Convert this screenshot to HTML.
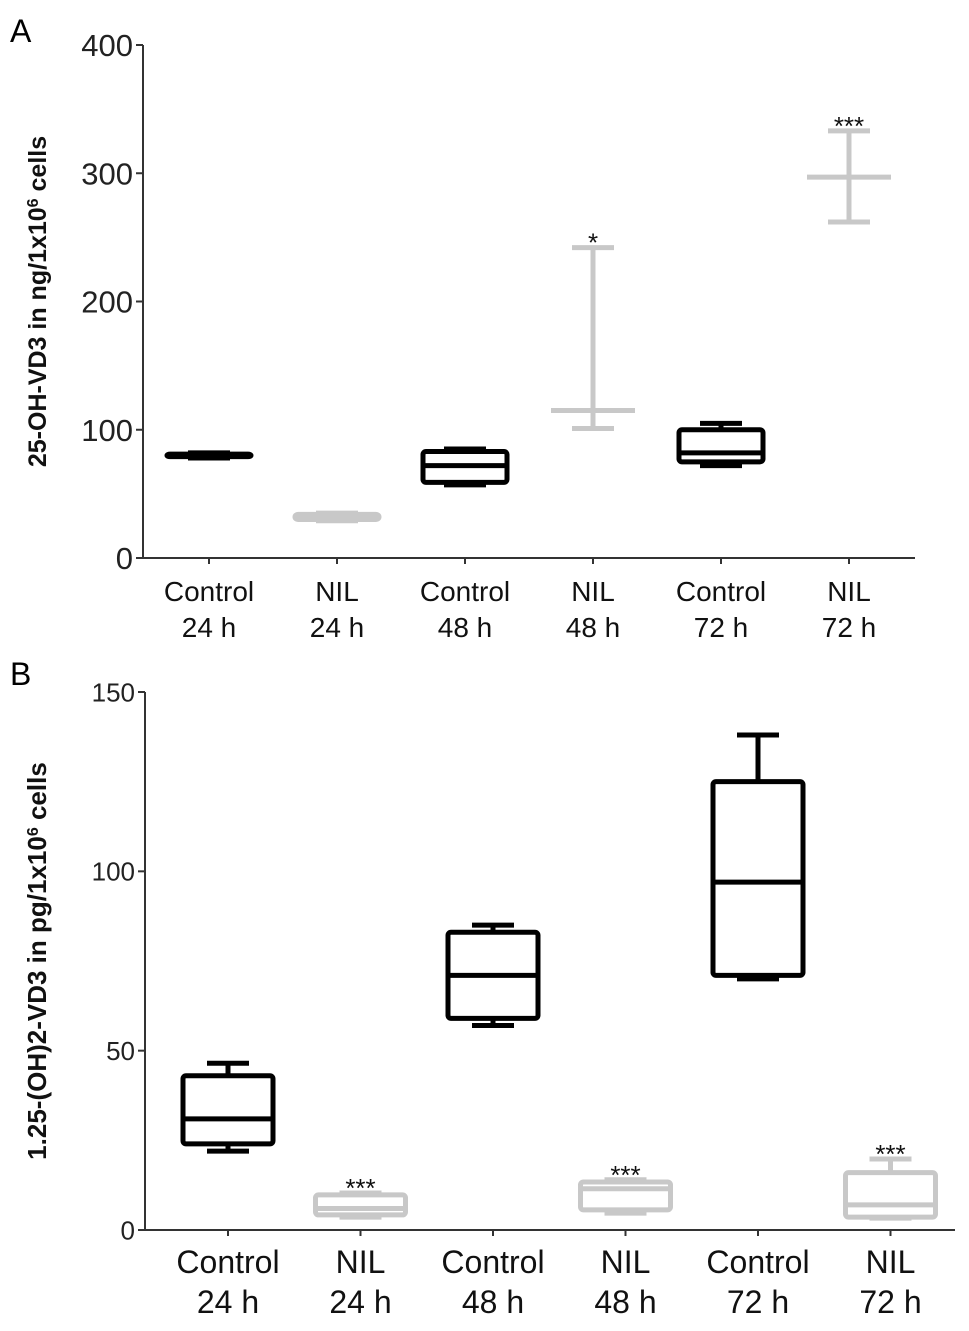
<!DOCTYPE html>
<html><head><meta charset="utf-8"><style>
body{margin:0;background:#fff}
svg text{font-family:"Liberation Sans",Arial,sans-serif}
</style></head><body>
<svg id="chart" width="969" height="1326" xmlns="http://www.w3.org/2000/svg">
<text x="10" y="42" font-size="32">A</text>
<text x="10" y="685" font-size="32">B</text>
<g id="pa"></g>
<g id="pb"></g>
</svg>
<script>
const categories = ["Control|24 h","NIL|24 h","Control|48 h","NIL|48 h","Control|72 h","NIL|72 h"];
const groupColor = ["black","grey","black","grey","black","grey"];
// panel A: [min, q1, median, q3, max]
const aMin = [78, 29, 57, 101, 72, 262];
const aQ1 = [79, 30, 59, 115, 75, 297];
const aMed = [80, 32, 72, 115, 82, 297];
const aQ3 = [81, 34, 83, 115, 100, 297];
const aMax = [82, 35, 85, 242, 105, 333];
const aStars = ["","","","*","","***"];
const aTicks = [0,100,200,300,400];
// panel B
const bMin = [22, 3.6, 57, 4.7, 70, 3.3];
const bQ1 = [24, 4.2, 59, 5.6, 71, 3.6];
const bMed = [31, 6, 71, 11.5, 97, 7];
const bQ3 = [43, 9.8, 83, 13.4, 125, 16];
const bMax = [46.5, 10.3, 85, 14, 138, 19.8];
const bStars = ["","***","","***","","***"];
const bTicks = [0,50,100,150];

const NS="http://www.w3.org/2000/svg";
function mk(p,tag,at){const e=document.createElementNS(NS,tag);for(const k in at)e.setAttribute(k,at[k]);p.appendChild(e);return e;}

function panel(g,cfg){
  const y=v=>cfg.y0-(v-cfg.vmin)/(cfg.vmax-cfg.vmin)*(cfg.y0-cfg.y1);
  const x=i=>cfg.x0+i*cfg.step;
  let ax=mk(g,"line",{x1:cfg.ax,y1:cfg.y1,x2:cfg.ax,y2:cfg.y0,stroke:"#333","stroke-width":2});
  
  
  let bx=mk(g,"line",{x1:cfg.ax,y1:cfg.y0,x2:cfg.xend,y2:cfg.y0,stroke:"#333","stroke-width":2});
  
  
  cfg.ticks.forEach(t=>{
    let l=mk(g,"line",{x1:cfg.ax-7,y1:y(t),x2:cfg.ax,y2:y(t),stroke:"#333","stroke-width":2});
    
    
    let tx=mk(g,"text",{x:cfg.ax-10,y:y(t)+cfg.tfs*0.36,"font-size":cfg.tfs,"text-anchor":"end",fill:"#222"});
    tx.textContent=t;
    
    
  });
  let tt=mk(g,"text",{transform:`translate(${cfg.tx},${(cfg.y0+cfg.y1)/2}) rotate(-90)`,"font-size":cfg.ttfs,"font-weight":"bold","text-anchor":"middle",fill:"#111"});
  tt.innerHTML=cfg.title;
  
  
  categories.forEach((c,i)=>{
    const cx=x(i);
    let tk=mk(g,"line",{x1:cx,y1:cfg.y0,x2:cx,y2:cfg.y0+6,stroke:"#333","stroke-width":2});
    
    
    const parts=c.split("|");
    parts.forEach((p,j)=>{
      let t=mk(g,"text",{x:cx,y:cfg.y0+cfg.lab+j*cfg.lh,"font-size":cfg.fs,"text-anchor":"middle",fill:"#111"});
      t.textContent=p;
      
      
    });
    const col=groupColor[i]==="black"?"#000":"#c8c8c8";
    const bg=mk(g,"g",{stroke:col,"stroke-width":5,fill:"none","stroke-linejoin":"round"});
    
    
    const hw=cfg.bw/2, cw=cfg.cw/2;
    const mn=cfg.d.min[i],q1=cfg.d.q1[i],md=cfg.d.med[i],q3=cfg.d.q3[i],mx=cfg.d.max[i];
    mk(bg,"line",{x1:cx,y1:y(mx),x2:cx,y2:y(q3)});
    mk(bg,"line",{x1:cx,y1:y(q1),x2:cx,y2:y(mn)});
    mk(bg,"line",{x1:cx-cw,y1:y(mx),x2:cx+cw,y2:y(mx)});
    mk(bg,"line",{x1:cx-cw,y1:y(mn),x2:cx+cw,y2:y(mn)});
    if(q3-q1>0.01){
      mk(bg,"rect",{x:cx-hw,y:y(q3),width:cfg.bw,height:y(q1)-y(q3),rx:3});
    }
    mk(bg,"line",{x1:cx-hw,y1:y(md),x2:cx+hw,y2:y(md)});
    if(cfg.stars[i]){
      let s=mk(g,"text",{x:cx,y:y(mx)+4,"font-size":26,"text-anchor":"middle",fill:"#111"});
      s.textContent=cfg.stars[i];
      
      
    }
  });
}
panel(document.getElementById("pa"),{ax:143,y0:558,y1:45,vmin:0,vmax:400,x0:209,step:128,xend:915,bw:84,cw:42,ticks:aTicks,tfs:31,ttfs:25,
 tx:46,title:'25-OH-VD3 in ng/1x10<tspan baseline-shift="super" font-size="16">6</tspan> cells',lab:43,lh:36,fs:28,stars:aStars,
 d:{min:aMin,q1:aQ1,med:aMed,q3:aQ3,max:aMax}});
panel(document.getElementById("pb"),{ax:145,y0:1230,y1:692,vmin:0,vmax:150,x0:228,step:132.5,xend:955,bw:90,cw:42,ticks:bTicks,tfs:26,ttfs:26,
 tx:46,title:'1.25-(OH)2-VD3 in pg/1x10<tspan baseline-shift="super" font-size="16">6</tspan> cells',lab:43,lh:40,fs:32,stars:bStars,
 d:{min:bMin,q1:bQ1,med:bMed,q3:bQ3,max:bMax}});
</script>
</body></html>
